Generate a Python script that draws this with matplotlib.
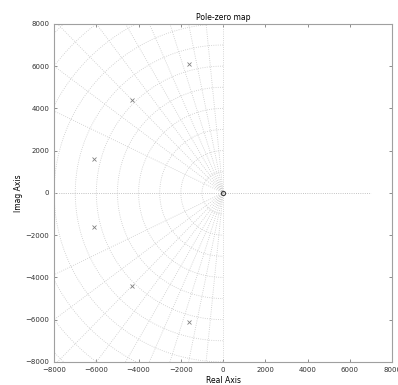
import numpy as np
import matplotlib
matplotlib.use("Agg")
import matplotlib.pyplot as plt

# Data
pole_re = [-1600, -4300, -6100, -6100, -4300, -1600]
pole_im = [6100, 4400, 1600, -1600, -4400, -6100]
zero_re = [0]
zero_im = [0]
zeta_vals = [0.0, 0.1, 0.2, 0.3, 0.4, 0.5, 0.6, 0.7, 0.8, 0.9, 1.0]
wn_vals = [1000, 2000, 3000, 4000, 5000, 6000, 7000, 8000, 9000, 10000, 11000, 12000]
ticks = [-8000, -6000, -4000, -2000, 0, 2000, 4000, 6000, 8000]
real_axis_end = 7000

fig = plt.figure(figsize=(3.98, 3.85), dpi=100)
ax = fig.add_axes([0.136, 0.06, 0.849, 0.878])

gc = '#c8c8c8'
# constant natural frequency semicircles
th = np.linspace(np.pi / 2, 3 * np.pi / 2, 300)
for wn in wn_vals:
    ax.plot(wn * np.cos(th), wn * np.sin(th), ls=':', color=gc, lw=0.6)
# constant damping lines
R = 20000
for z in zeta_vals:
    a = np.arccos(z)
    for s in (1, -1):
        ax.plot([0, -R * z], [0, s * R * np.sin(a)], ls=':', color=gc, lw=0.6)

# real axis dotted line
ax.plot([0, real_axis_end], [0, 0], ls=':', color='#b0b0b0', lw=0.6)

ax.plot(pole_re, pole_im, 'x', color='#808080', ms=3, mew=0.6)
ax.plot(zero_re, zero_im, 'o', mfc='none', mec='#404040', ms=3, mew=0.8)

ax.set_xlim(-8000, 8000)
ax.set_ylim(-8000, 8000)
ax.set_xticks(ticks)
ax.set_yticks(ticks)
ax.tick_params(direction='in', length=2, labelsize=5, top=True, right=True, width=0.5, colors='#606060', labelcolor='#303030')
for sp in ax.spines.values():
    sp.set_color('#a0a0a0')
    sp.set_linewidth(0.8)
ax.set_title('Pole-zero map', fontsize=5.5, pad=3)
ax.set_xlabel('Real Axis', fontsize=5.5, labelpad=2)
ax.set_ylabel('Imag Axis', fontsize=5.5, labelpad=2)

fig.savefig('out.png', dpi=100)
